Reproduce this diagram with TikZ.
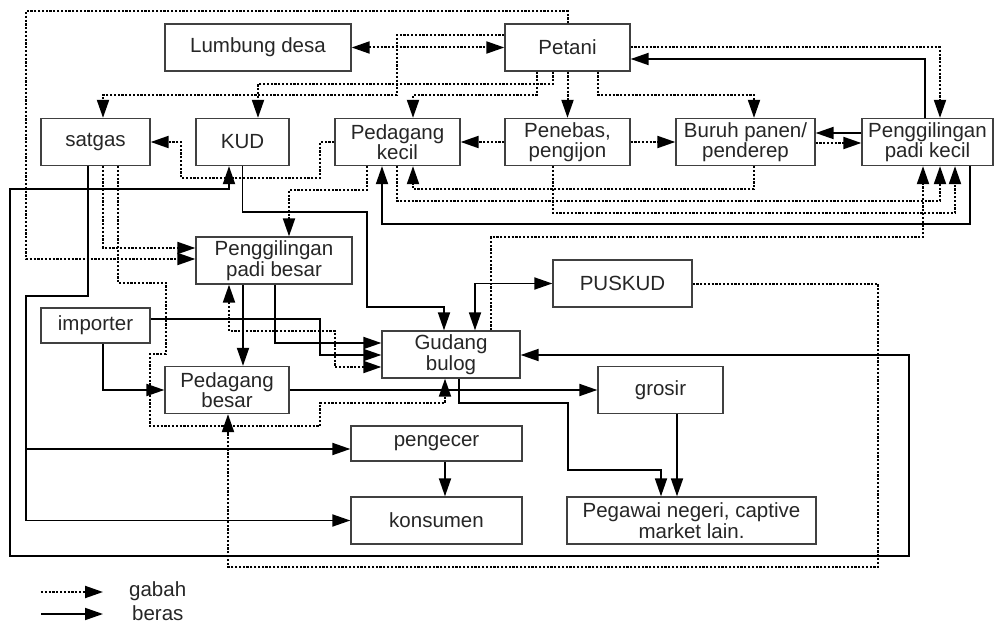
\documentclass[tikz,border=0pt]{standalone}
\usepackage{fontspec}
\setmainfont{Liberation Sans}
\usepackage{tikz}
\usetikzlibrary{arrows.meta,
                positioning,
                calc}

\begin{document}
\begin{tikzpicture}[x=1pt,y=-1pt,
  >={Triangle[length=18pt,width=12pt]},
  font=\fontsize{20.5}{20.5}\selectfont,
  box/.style={draw=black!75,line width=1.3pt,minimum height=47pt,inner sep=2pt,
              align=center,text=black!85,fill=white},
  flat/.style={box,minimum height=35pt},
  beras/.style={draw=black,line width=1.8pt,->},
  gabah/.style={draw=black,line width=2pt,dash pattern=on 2.2pt off 1.6pt,->}]
\useasboundingbox (0,0) rectangle (996,623);
% top row
\node[box,minimum width=186pt] (lumbung) at (258,47.5) {Lumbung desa};
\node[box,minimum width=125pt] (petani) at (567.5,47.5) {Petani};
% second row
\node[box,minimum width=109pt] (satgas) at (95.5,142) {satgas};
\node[box,minimum width=93pt] (kud) at (242.5,142) {KUD};
\node[box,minimum width=125pt] (pkecil) at (397.5,142) {Pedagang\\kecil};
\node[box,minimum width=125pt] (penebas) at (567.5,142) {Penebas,\\pengijon};
\node[box,minimum width=139pt] (buruh) at (745.5,142) {Buruh panen/\\penderep};
\node[box,minimum width=131pt] (ppk) at (927.5,142) {Penggilingan\\padi kecil};
% middle
\node[box,minimum width=156pt] (ppbesar) at (274,260.5) {Penggilingan\\padi besar};
\node[box,minimum width=139pt] (puskud) at (622.5,283.5) {PUSKUD};
\node[flat,minimum width=109pt] (importer) at (95.5,325.5) {importer};
\node[box,minimum width=138pt] (gudang) at (451,354.5) {Gudang\\bulog};
\node[box,minimum width=124pt] (pbesar) at (227,390) {Pedagang\\besar};
\node[box,minimum width=125pt] (grosir) at (660.5,390) {grosir};
% bottom
\node[flat,minimum width=171pt] (pengecer) at (436.5,443.5) {pengecer};
\node[box,minimum width=171pt] (konsumen) at (436.5,520.5) {konsumen};
\node[box,minimum width=249pt] (pegawai) at (691.5,520.5) {Pegawai negeri, captive\\market lain.};

% gabah
\draw[gabah,<->] (lumbung) -- (petani);
\draw[gabah] (petani.west |- 0,35) -- (397,35) -- (397,95) -| (satgas.north -| 103,0);
\draw[gabah] (petani.south -| 553,0) |- (258,84) -- (kud.north -| 258,0);
\draw[gabah] (petani.south -| 537,0) |- (413,95) -- (pkecil.north -| 413,0);
\draw[gabah] (petani) -- (penebas);
\draw[gabah] (petani.south -| 598,0) |- (754,95) -- (buruh.north -| 754,0);
\draw[gabah] (petani.east) -| (ppk.north -| 940,0);
\draw[gabah] (petani.north) |- (26,11) |- (ppbesar.west |- 0,259);
\draw[gabah] (penebas.west) -- (pkecil.east);
\draw[gabah] (penebas.east) -- (buruh.west);
\draw[gabah] (buruh.east |- 0,143) -- (ppk.west |- 0,143);
\draw[gabah] (pkecil.west) -- (320,142) |- (181,178) |- (satgas.east);
\draw[gabah] (pkecil.south -| 367,0) |- (289,190) -- (ppbesar.north -| 289,0);
\draw[gabah] (pkecil.south -| 397,0) |- (940,201) -- (ppk.south -| 940,0);
\draw[gabah] (penebas.south -| 553,0) |- (955,213) -- (ppk.south -| 955,0);
\draw[gabah] (buruh.south -| 754,0) |- (413,189) -- (pkecil.south -| 413,0);
\draw[gabah] (gudang.north -| 491,0) |- (923,237) -- (ppk.south -| 923,0);
\draw[gabah] (puskud.east) -| (878,567) -| (pbesar.south -| 228,0);
\draw[gabah] (satgas.south -| 103,0) |- (ppbesar.west |- 0,248);
\draw[gabah] (satgas.south -| 118,0) |- (166,283) |- (150,354) |- (320,426) |- (445,403)
  -- (gudang.south -| 445,0);
\draw[gabah,<->] (ppbesar.south -| 229,0) |- (335,331) |- (gudang.west |- 0,367);

% beras
\draw[beras] (ppk.north -| 925,0) |- (petani.east |- 0,59);
\draw[beras] (ppk.west |- 0,133) -- (buruh.east |- 0,133);
\draw[beras] (ppk.south -| 970,0) |- (382,224) -- (pkecil.south -| 382,0);
\draw[beras] (kud.south) |- (367,212) |- (444,307) -- (gudang.north -| 444,0);
\draw[beras,<->] (gudang.north -| 475,0) |- (puskud.west);
\draw[beras,<->] (kud.south -| 229,0) |- (10,189) |- (909,556) |- (gudang.east |- 0,355);
\draw[beras] (satgas.south -| 88,0) |- (26,296) |- (pengecer.west |- 0,449);
\draw[beras] (satgas.south -| 88,0) |- (26,296) |- (konsumen.west);
\draw[beras] (ppbesar.south -| 275,0) |- (gudang.west |- 0,343);
\draw[beras] (importer.east |- 0,319) -| (320,355) -- (gudang.west |- 0,355);
\draw[beras] (ppbesar.south -| 243,0) -- (pbesar.north -| 243,0);
\draw[beras] (importer.south -| 103,0) |- (pbesar.west);
\draw[beras] (pbesar.east) -- (grosir.west);
\draw[beras] (gudang.south -| 459,0) |- (568,403) |- (661,470) -- (pegawai.north -| 661,0);
\draw[beras] (grosir.south -| 677,0) -- (pegawai.north -| 677,0);
\draw[beras] (pengecer.south -| 445,0) -- (konsumen.north -| 445,0);

% legend
\coordinate (g1) at (41,592); \coordinate (g2) at (103,592);
\coordinate (b1) at (41,614); \coordinate (b2) at (103,614);
\draw[gabah] (g1) -- (g2);
\draw[beras] (b1) -- (b2);
\node[anchor=west,inner sep=0pt,text=black!85] (lgabah) at (129,591) {gabah};
\node[anchor=west,inner sep=0pt,text=black!85] (lberas) at (132,613) {beras};
\end{tikzpicture}
\end{document}
